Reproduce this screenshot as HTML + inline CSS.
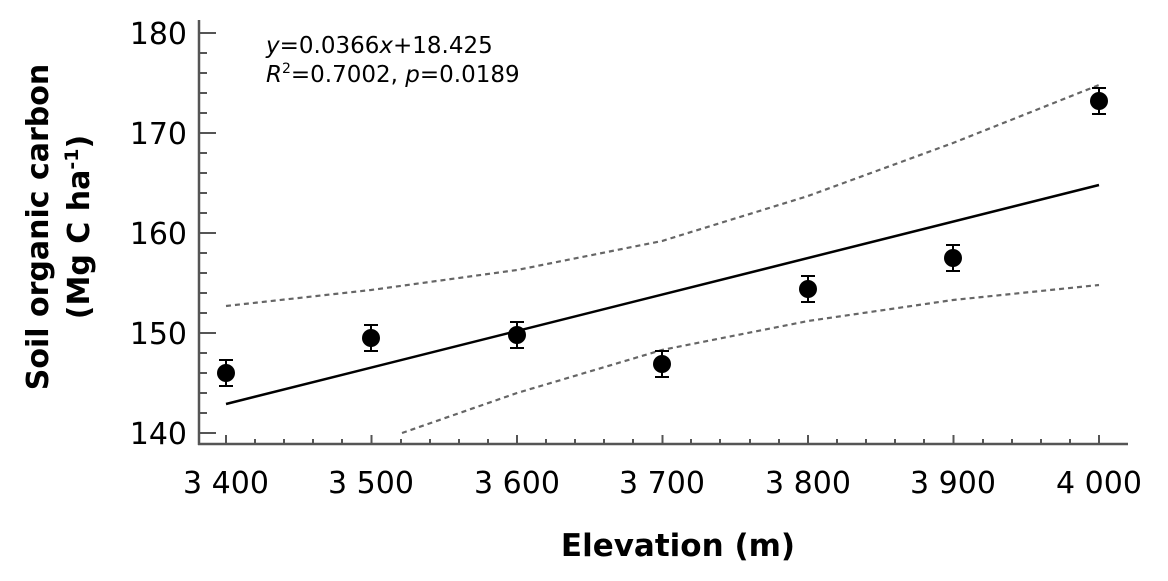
<!DOCTYPE html><html><head><style>body{margin:0;background:#fff}svg{display:block}</style></head><body>
<svg width="1168" height="581" xmlns="http://www.w3.org/2000/svg" font-family="DejaVu Sans, sans-serif">
<g stroke="#555" stroke-width="2.5">
<line x1="199" y1="20" x2="199" y2="445"/><line x1="198" y1="444" x2="1128" y2="444"/>
</g>
<g stroke="#555" stroke-width="2">
<path d="M199 33h17M199 133h17M199 233h17M199 333h17M199 433h17"/>
<path d="M199 53h8M199 73h8M199 93h8M199 113h8M199 153h8M199 173h8M199 193h8M199 213h8M199 253h8M199 273h8M199 293h8M199 313h8M199 353h8M199 373h8M199 393h8M199 413h8"/>
<path d="M226 444v-9M371.5 444v-9M517 444v-9M662.5 444v-9M808 444v-9M953.5 444v-9M1099 444v-9"/>
<path d="M255 444v-5M284 444v-5M313 444v-5M342 444v-5M401 444v-5M430 444v-5M459 444v-5M488 444v-5M546 444v-5M575 444v-5M604 444v-5M633 444v-5M691 444v-5M720 444v-5M750 444v-5M779 444v-5M837 444v-5M866 444v-5M895 444v-5M924 444v-5M983 444v-5M1012 444v-5M1041 444v-5M1070 444v-5"/>
</g>
<g font-size="30" fill="#000" text-anchor="end">
<text x="187" y="44">180</text><text x="187" y="144">170</text><text x="187" y="244">160</text><text x="187" y="344">150</text><text x="187" y="444">140</text>
</g>
<g font-size="30" fill="#000" text-anchor="middle">
<text x="226" y="493">3 400</text><text x="371" y="493">3 500</text><text x="517" y="493">3 600</text><text x="662" y="493">3 700</text><text x="808" y="493">3 800</text><text x="953" y="493">3 900</text><text x="1099" y="493">4 000</text>
</g>
<text x="678" y="556" font-size="31" font-weight="bold" text-anchor="middle">Elevation (m)</text>
<g font-size="30" font-weight="bold" text-anchor="middle">
<text transform="translate(48,227) rotate(-90)">Soil organic carbon</text>
<text transform="translate(89,227) rotate(-90)">(Mg C ha<tspan font-size="19" dy="-11">-1</tspan><tspan dy="11">)</tspan></text>
</g>
<g font-size="23" fill="#000">
<text x="266" y="53"><tspan font-style="italic">y</tspan>=0.0366<tspan font-style="italic">x</tspan>+18.425</text>
<text x="266" y="82"><tspan font-style="italic">R</tspan><tspan font-size="14" dy="-9">2</tspan><tspan dy="9">=0.7002, </tspan><tspan font-style="italic">p</tspan>=0.0189</text>
</g>
<line x1="226" y1="404" x2="1099" y2="185" stroke="#000" stroke-width="2.5"/>
<g fill="none" stroke="#666" stroke-width="2.2" stroke-dasharray="5,4">
<path d="M226 306 L371 290 L517 270 L662 241 L808 196 L953 143 L1099 85"/>
<path d="M402 433 L517 393 L662 350 L808 321 L953 300 L1099 285"/>
</g>
<g stroke="#000" stroke-width="2" fill="none">
<path d="M226 360v26M219 360h14M219 386h14"/>
<path d="M371 325v26M364 325h14M364 351h14"/>
<path d="M517 322v26M510 322h14M510 348h14"/>
<path d="M662 351v26M655 351h14M655 377h14"/>
<path d="M808 276v26M801 276h14M801 302h14"/>
<path d="M953 245v26M946 245h14M946 271h14"/>
<path d="M1099 88v26M1092 88h14M1092 114h14"/>
</g>
<g fill="#000">
<circle cx="226" cy="373" r="9"/><circle cx="371" cy="338" r="9"/><circle cx="517" cy="335" r="9"/><circle cx="662" cy="364" r="9"/><circle cx="808" cy="289" r="9"/><circle cx="953" cy="258" r="9"/><circle cx="1099" cy="101" r="9"/>
</g>
</svg></body></html>
